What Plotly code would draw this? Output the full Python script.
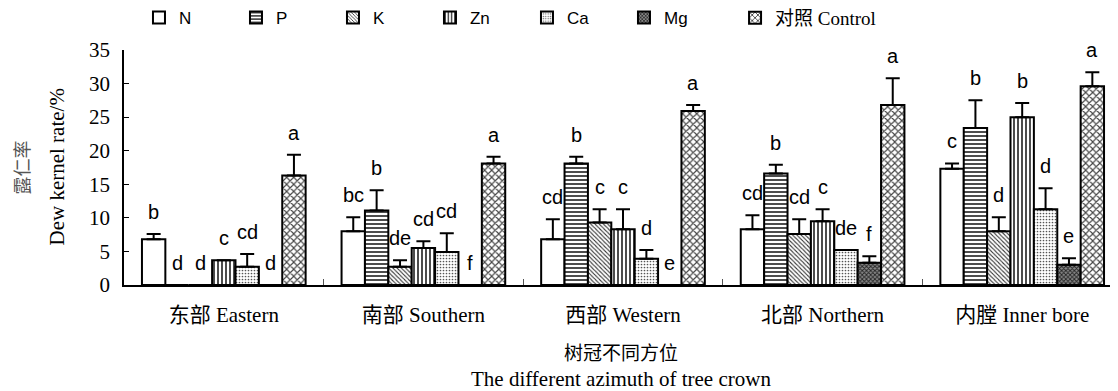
import plotly.graph_objects as go

# ---------------- data ----------------
categories = ["东部 Eastern", "南部 Southern", "西部 Western", "北部 Northern", "内膛 Inner bore"]

series_names = ["N", "P", "K", "Zn", "Ca", "Mg", "对照 Control"]

N_vals = [6.8, 8.0, 6.8, 8.3, 17.3]
N_err = [0.8, 2.1, 3.0, 2.1, 0.8]
N_sig = ["b", "bc", "cd", "cd", "c"]

P_vals = [0, 11.1, 18.1, 16.6, 23.4]
P_err = [0, 3.0, 1.0, 1.3, 4.1]
P_sig = ["d", "b", "b", "b", "b"]

K_vals = [0, 2.7, 9.3, 7.6, 8.0]
K_err = [0, 1.0, 2.0, 2.2, 2.1]
K_sig = ["d", "de", "c", "cd", "d"]

Zn_vals = [3.7, 5.5, 8.3, 9.5, 25.0]
Zn_err = [0, 1.0, 3.0, 1.8, 2.1]
Zn_sig = ["c", "cd", "c", "c", "b"]

Ca_vals = [2.7, 4.9, 3.9, 5.2, 11.3]
Ca_err = [1.9, 2.8, 1.3, 0, 3.1]
Ca_sig = ["cd", "cd", "d", "de", "d"]

Mg_vals = [0, 0, 0, 3.3, 3.0]
Mg_err = [0, 0, 0, 1.0, 1.0]
Mg_sig = ["d", "f", "e", "f", "e"]

Control_vals = [16.3, 18.1, 25.9, 26.8, 29.6]
Control_err = [3.1, 1.0, 0.9, 4.0, 2.1]
Control_sig = ["a", "a", "a", "a", "a"]

y_ticks = [0, 5, 10, 15, 20, 25, 30, 35]

# ---------------- styles ----------------
values = [N_vals, P_vals, K_vals, Zn_vals, Ca_vals, Mg_vals, Control_vals]
errors = [N_err, P_err, K_err, Zn_err, Ca_err, Mg_err, Control_err]
sigs = [N_sig, P_sig, K_sig, Zn_sig, Ca_sig, Mg_sig, Control_sig]

patterns = [
    dict(shape="", bgcolor="white"),
    dict(shape="-", size=4, solidity=0.35, fgcolor="black", bgcolor="white", fillmode="replace"),
    dict(shape="\\", size=3, solidity=0.35, fgcolor="#333", bgcolor="white", fillmode="replace"),
    dict(shape="|", size=4, solidity=0.35, fgcolor="black", bgcolor="white", fillmode="replace"),
    dict(shape=".", size=3, solidity=0.25, fgcolor="#555", bgcolor="white", fillmode="replace"),
    dict(shape="x", size=3, solidity=0.5, fgcolor="#222", bgcolor="#888", fillmode="replace"),
    dict(shape="x", size=5, solidity=0.4, fgcolor="#444", bgcolor="white", fillmode="replace"),
]

SERIF = "Liberation Serif, Times New Roman, Noto Sans CJK SC, serif"
SANS = "Liberation Sans, Arial, sans-serif"

bargap = 0.18
n_series = len(series_names)

fig = go.Figure()
for i, name in enumerate(series_names):
    fig.add_trace(go.Bar(
        name=name,
        x=categories,
        y=values[i],
        legend="legend2" if i == n_series - 1 else "legend",
        marker=dict(color="white", line=dict(color="black", width=2), pattern=patterns[i]),
        error_y=dict(type="data", array=errors[i], arrayminus=[0] * len(categories),
                     symmetric=False, color="black", thickness=2, width=7, visible=True),
    ))

# significance letters above bars (position derived from grouping)
slot = (1 - bargap) / n_series
annotations = []
for i in range(n_series):
    for g in range(len(categories)):
        annotations.append(dict(
            x=g + (i - (n_series - 1) / 2) * slot,
            y=values[i][g] + errors[i][g],
            xref="x", yref="y",
            text=sigs[i][g],
            showarrow=False,
            yanchor="bottom",
            yshift=9,
            font=dict(family=SANS, size=20, color="black"),
        ))

# y-axis title (two lines, rotated)
annotations.append(dict(x=0, y=0.5, xref="paper", yref="paper", xanchor="center", yanchor="middle",
                        xshift=-104, text="露仁率", textangle=-90, showarrow=False,
                        font=dict(family="Noto Sans CJK SC", size=18, color="#555")))
annotations.append(dict(x=0, y=0.5, xref="paper", yref="paper", xanchor="center", yanchor="middle",
                        xshift=-68, text="Dew kernel rate/%", textangle=-90, showarrow=False,
                        font=dict(family=SERIF, size=21, color="black")))
# x-axis title (two lines)
annotations.append(dict(x=0.5, y=0, xref="paper", yref="paper", xanchor="center", yanchor="middle",
                        yshift=-66, text="树冠不同方位", showarrow=False,
                        font=dict(family="Noto Sans CJK SC", size=19, color="black")))
annotations.append(dict(x=0.5, y=0, xref="paper", yref="paper", xanchor="center", yanchor="middle",
                        yshift=-94, text="The different azimuth of tree crown", showarrow=False,
                        font=dict(family=SERIF, size=21, color="black")))

legend_common = dict(orientation="h", xref="container", yref="container", y=0.974,
                     xanchor="left", yanchor="middle", itemwidth=30,
                     bgcolor="rgba(0,0,0,0)")

# page body has an 8px default margin, so the figure is sized to fit inside the window
fig.update_layout(
    width=1110, height=383,
    margin=dict(l=116, r=0, t=42, b=106, autoexpand=False),
    paper_bgcolor="white", plot_bgcolor="white",
    barmode="group", bargap=bargap, bargroupgap=0,
    showlegend=True,
    legend=dict(**legend_common, x=0.118,
                font=dict(family=SANS, size=17, color="black"),
                entrywidth=52, entrywidthmode="pixels"),
    legend2=dict(**legend_common, x=0.655,
                 font=dict(family=SERIF, size=19, color="black")),
    annotations=annotations,
    xaxis=dict(
        type="category", range=[-0.5, 4.48], automargin=False,
        showline=True, linecolor="black", linewidth=1.5,
        ticks="inside", tickson="boundaries", ticklen=6, tickcolor="#555", tickwidth=1,
        tickfont=dict(family=SERIF, size=21, color="black"),
        ticklabelstandoff=10,
        showgrid=False, zeroline=False,
    ),
    yaxis=dict(
        range=[0, 35], tickvals=y_ticks, automargin=False,
        showline=True, linecolor="black", linewidth=1.5,
        ticks="inside", ticklen=5, tickcolor="black", tickwidth=1,
        tickfont=dict(family=SERIF, size=21, color="black"),
        ticklabelstandoff=8,
        showgrid=False, zeroline=False,
    ),
)

fig.write_html("out.html")
